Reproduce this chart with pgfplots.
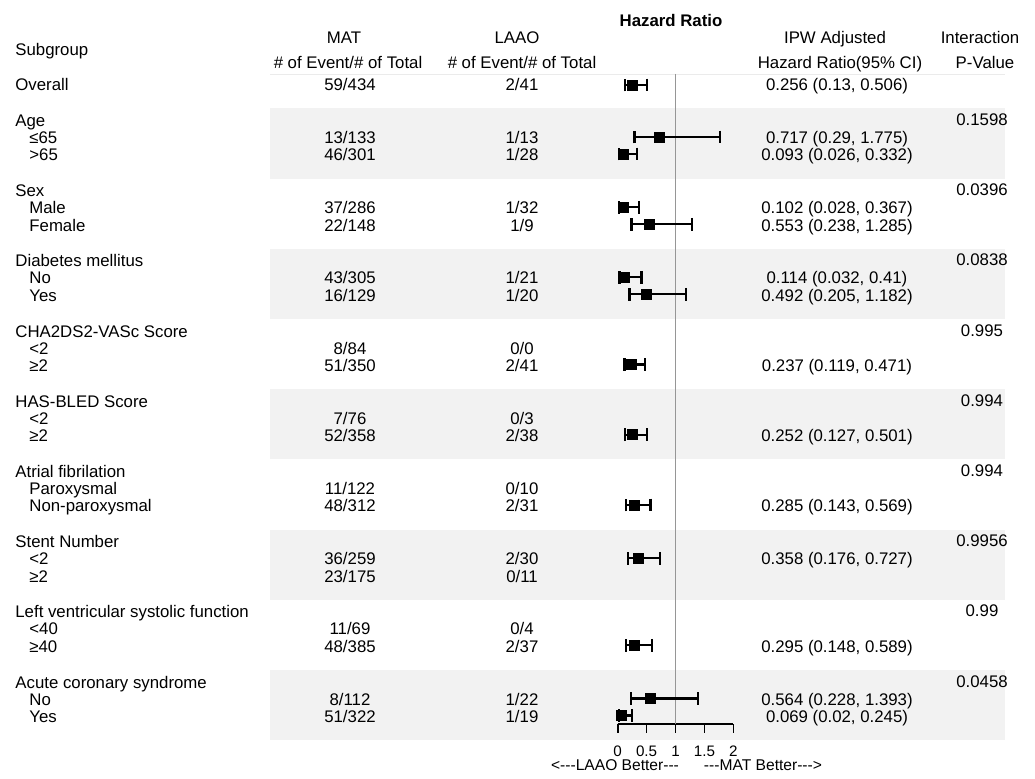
\documentclass[border=0pt]{standalone}
\usepackage{pgfplots}
\pgfplotsset{compat=1.18}
\usepackage{fontspec}
\setmainfont{Liberation Sans}

\definecolor{band}{RGB}{242,242,242}
\definecolor{refline}{RGB}{150,150,150}

% 1 px of the reference = 0.5pt; text tables use pixel coordinates (y down)
\pgfplotsset{
  textcol/.style={draw=none, mark=none, nodes near coords,
    point meta=explicit symbolic,
    every node near coord/.style={anchor=#1, inner sep=0pt}},
}

\begin{document}
\begin{tikzpicture}[font=\fontsize{8.4}{10}\selectfont]
% ---------- table part ----------
\begin{axis}[
    at={(0,0)}, anchor=south west,
    width=517.5pt, height=389.5pt, scale only axis,
    xmin=0, xmax=1035, ymin=0, ymax=779, y dir=reverse,
    hide axis, clip=false]

  % shaded groups
  \fill[band] (axis cs:270,108.5) rectangle (axis cs:1005,178.7);
  \fill[band] (axis cs:270,248.9) rectangle (axis cs:1005,319.1);
  \fill[band] (axis cs:270,389.3) rectangle (axis cs:1005,459.5);
  \fill[band] (axis cs:270,529.7) rectangle (axis cs:1005,599.9);
  \fill[band] (axis cs:270,670.1) rectangle (axis cs:1005,740.3);
  \draw[black!8, line width=0.6pt] (axis cs:270,74.5) -- (axis cs:1005,74.5);

  % headers
  \node[anchor=base west, inner sep=0pt] at (axis cs:15,56) {Subgroup};
  \node[anchor=base, inner sep=0pt] at (axis cs:344,44) {MAT};
  \node[anchor=base, inner sep=0pt] at (axis cs:348,69) {\# of Event/\# of Total};
  \node[anchor=base, inner sep=0pt] at (axis cs:517,44) {LAAO};
  \node[anchor=base, inner sep=0pt] at (axis cs:522,69) {\# of Event/\# of Total};
  \node[anchor=base, inner sep=0pt] at (axis cs:671,27) {\bfseries Hazard Ratio};
  \node[anchor=base, inner sep=0pt] at (axis cs:835,44) {IPW Adjusted};
  \node[anchor=base, inner sep=0pt] at (axis cs:840,69) {Hazard Ratio(95\% CI)};
  \node[anchor=base, inner sep=0pt] at (axis cs:980,44) {Interaction};
  \node[anchor=base, inner sep=0pt] at (axis cs:985,69) {P-Value};

  % subgroup names
  \addplot[textcol=base west] table[x=x, y=y, meta=t] {
x y t
15 91 Overall
15 126.5 Age
29 143.5 ≤65
29 161 >65
15 196.7 Sex
29 213.7 Male
29 231.2 Female
15 266.9 {Diabetes mellitus}
29 283.9 No
29 301.4 Yes
15 337.1 {CHA2DS2-VASc Score}
29 354.1 <2
29 371.6 ≥2
15 407.3 {HAS-BLED Score}
29 424.3 <2
29 441.8 ≥2
15 477.5 {Atrial fibrilation}
29 494.5 Paroxysmal
29 512 Non-paroxysmal
15 547.7 {Stent Number}
29 564.7 <2
29 582.2 ≥2
15 617.9 {Left ventricular systolic function}
29 634.9 <40
29 652.4 ≥40
15 688.1 {Acute coronary syndrome}
29 705.1 No
29 722.6 Yes
};

  % MAT events / total
  \addplot[textcol=base] table[x=x, y=y, meta=t] {
x y t
350 91 59/434
350 143.5 13/133
350 161 46/301
350 213.7 37/286
350 231.2 22/148
350 283.9 43/305
350 301.4 16/129
350 354.1 8/84
350 371.6 51/350
350 424.3 7/76
350 441.8 52/358
350 494.5 11/122
350 512 48/312
350 564.7 36/259
350 582.2 23/175
350 634.9 11/69
350 652.4 48/385
350 705.1 8/112
350 722.6 51/322
};

  % LAAO events / total
  \addplot[textcol=base] table[x=x, y=y, meta=t] {
x y t
522 91 2/41
522 143.5 1/13
522 161 1/28
522 213.7 1/32
522 231.2 1/9
522 283.9 1/21
522 301.4 1/20
522 354.1 0/0
522 371.6 2/41
522 424.3 0/3
522 441.8 2/38
522 494.5 0/10
522 512 2/31
522 564.7 2/30
522 582.2 0/11
522 634.9 0/4
522 652.4 2/37
522 705.1 1/22
522 722.6 1/19
};

  % adjusted hazard ratios
  \addplot[textcol=base] table[x=x, y=y, meta=t] {
x y t
837 91 {0.256 (0.13, 0.506)}
837 143.5 {0.717 (0.29, 1.775)}
837 161 {0.093 (0.026, 0.332)}
837 213.7 {0.102 (0.028, 0.367)}
837 231.2 {0.553 (0.238, 1.285)}
837 283.9 {0.114 (0.032, 0.41)}
837 301.4 {0.492 (0.205, 1.182)}
837 371.6 {0.237 (0.119, 0.471)}
837 441.8 {0.252 (0.127, 0.501)}
837 512 {0.285 (0.143, 0.569)}
837 564.7 {0.358 (0.176, 0.727)}
837 652.4 {0.295 (0.148, 0.589)}
837 705.1 {0.564 (0.228, 1.393)}
837 722.6 {0.069 (0.02, 0.245)}
};

  % interaction p-values
  \addplot[textcol=base] table[x=x, y=y, meta=t] {
x y t
982 125.5 0.1598
982 195.7 0.0396
982 265.9 0.0838
982 336.1 0.995
982 406.3 0.994
982 476.5 0.994
982 546.7 0.9956
982 616.9 0.99
982 687.1 0.0458
};

  \node[anchor=base, inner sep=0pt, font=\fontsize{7.8}{9}\selectfont]
    at (axis cs:615,771) {<{-}{-}{-}LAAO Better{-}{-}{-}};
  \node[anchor=base, inner sep=0pt, font=\fontsize{7.8}{9}\selectfont]
    at (axis cs:763,771) {{-}{-}{-}MAT Better{-}{-}{-}>};
\end{axis}

% ---------- forest plot ----------
\begin{axis}[
    at={(308.85pt,27.5pt)}, anchor=south west,
    width=57.8pt, height=325pt, scale only axis,
    xmin=0, xmax=2, ymin=55, ymax=705,
    y filter/.expression={779-y},
    axis x line=bottom, axis y line=none,
    x axis line style={-, line width=0.8pt},
    xtick={0,0.5,1,1.5,2},
    tick align=outside, major tick length=4.5pt,
    tick style={black, line width=0.8pt},
    xticklabel style={font=\fontsize{7.6}{9}\selectfont, inner sep=0pt, anchor=north, yshift=-6.3pt},
    /pgf/number format/assume math mode=true,
    clip=false]

  \addplot[refline, line width=0.7pt] coordinates {(1,74) (1,724)};

  \addplot[black, only marks, mark=square*, mark size=2.5pt,
    error bars/.cd, x dir=both, x explicit,
    error bar style={black, line width=1.1pt},
    error mark options={black, line width=1.1pt, mark size=3.2pt, rotate=90}]
  coordinates {
    (0.256,85)    += (0.250,0) -= (0.126,0)
    (0.717,137)   += (1.058,0) -= (0.427,0)
    (0.093,154)   += (0.239,0) -= (0.067,0)
    (0.102,207.2) += (0.265,0) -= (0.074,0)
    (0.553,224.2) += (0.732,0) -= (0.315,0)
    (0.114,277.4) += (0.296,0) -= (0.082,0)
    (0.492,294.4) += (0.690,0) -= (0.287,0)
    (0.237,364.6) += (0.234,0) -= (0.118,0)
    (0.252,434.8) += (0.249,0) -= (0.125,0)
    (0.285,505)   += (0.284,0) -= (0.142,0)
    (0.358,558.2) += (0.369,0) -= (0.182,0)
    (0.295,645.4) += (0.294,0) -= (0.147,0)
    (0.564,698.6) += (0.829,0) -= (0.336,0)
    (0.069,715.6) += (0.176,0) -= (0.049,0)
  };
\end{axis}
\pgfresetboundingbox
\path[use as bounding box] (0,0) rectangle (517.5pt,389.5pt);
\end{tikzpicture}
\end{document}
